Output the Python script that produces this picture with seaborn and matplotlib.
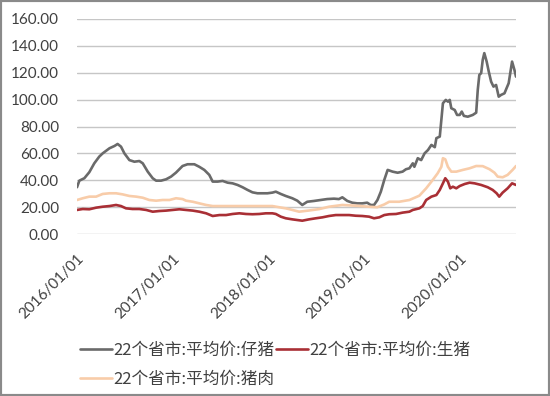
import pandas as pd
import matplotlib
matplotlib.use("Agg")
import matplotlib.pyplot as plt
import matplotlib.dates as mdates
from matplotlib.patches import Rectangle
import seaborn as sns

# values (yuan/kg)
piglet_dates = [
    "2016-01-01", "2016-01-10", "2016-01-29", "2016-02-17", "2016-03-07", "2016-03-26",
    "2016-04-08", "2016-05-04", "2016-05-23", "2016-06-04", "2016-06-17", "2016-06-30",
    "2016-07-19", "2016-08-07", "2016-08-26", "2016-09-08", "2016-09-27", "2016-10-16",
    "2016-10-29", "2016-11-17", "2016-12-06", "2016-12-25", "2017-01-13", "2017-02-07",
    "2017-02-26", "2017-03-24", "2017-04-12", "2017-05-01", "2017-05-20", "2017-06-02",
    "2017-06-21", "2017-07-10", "2017-07-29", "2017-08-17", "2017-09-05", "2017-09-24",
    "2017-10-13", "2017-11-01", "2017-11-20", "2017-12-09", "2017-12-28", "2018-01-16",
    "2018-01-29", "2018-02-17", "2018-03-08", "2018-04-02", "2018-04-21", "2018-05-10",
    "2018-05-29", "2018-06-24", "2018-07-19", "2018-08-13", "2018-09-08", "2018-09-27",
    "2018-10-10", "2018-10-29", "2018-11-17", "2018-12-06", "2018-12-25", "2019-01-13",
    "2019-01-26", "2019-02-08", "2019-02-21", "2019-03-06", "2019-03-19", "2019-04-01",
    "2019-04-20", "2019-05-09", "2019-05-28", "2019-06-10", "2019-06-23", "2019-07-06",
    "2019-07-12", "2019-07-25", "2019-08-07", "2019-08-20", "2019-09-02", "2019-09-15",
    "2019-09-28", "2019-10-04", "2019-10-17", "2019-10-23", "2019-10-29", "2019-11-09",
    "2019-11-17", "2019-11-24", "2019-11-30", "2019-12-13", "2019-12-22", "2020-01-01",
    "2020-01-09", "2020-01-17", "2020-02-01", "2020-02-20", "2020-03-04", "2020-03-10",
    "2020-03-16", "2020-03-23", "2020-03-29", "2020-04-04", "2020-04-13", "2020-04-21",
    "2020-04-30", "2020-05-09", "2020-05-19", "2020-05-29", "2020-06-07", "2020-06-20",
    "2020-06-28", "2020-07-06", "2020-07-15", "2020-07-19", "2020-07-28", "2020-08-03",
]
piglet_vals = [
    34.8, 39.7, 41.5, 46.0, 52.6, 57.6,
    60.0, 63.8, 65.5, 67.0, 65.0, 60.0,
    55.0, 53.8, 54.3, 52.6, 46.4, 41.5,
    39.7, 39.7, 40.7, 42.7, 45.7, 50.6,
    51.9, 51.9, 50.0, 47.7, 44.0, 39.0,
    39.0, 39.5, 38.2, 37.7, 36.5, 34.8,
    32.8, 31.0, 30.3, 30.3, 30.3, 30.8,
    31.5, 29.8, 28.3, 26.6, 24.8, 21.6,
    24.0, 24.6, 25.3, 26.0, 26.3, 26.0,
    27.3, 24.6, 23.3, 22.8, 22.8, 23.3,
    21.6, 21.6, 25.3, 31.5, 40.2, 47.7,
    46.4, 45.6, 46.4, 48.2, 48.9, 52.6,
    50.0, 56.4, 55.0, 60.0, 62.5, 66.3,
    64.6, 71.3, 72.5, 84.9, 97.3, 99.8,
    98.5, 99.8, 93.6, 92.3, 88.6, 88.6,
    91.1, 87.9, 87.3, 88.6, 90.3, 107.2,
    118.4, 119.7, 129.6, 134.6, 128.3, 120.9,
    113.4, 109.7, 110.9, 102.2, 103.5, 104.7,
    108.5, 112.2, 123.4, 128.3, 122.1, 117.1,
]

hog_dates = [
    "2016-01-01", "2016-01-23", "2016-02-17", "2016-03-14", "2016-04-08", "2016-05-04",
    "2016-05-29", "2016-06-17", "2016-07-06", "2016-07-31", "2016-08-26", "2016-09-21",
    "2016-10-16", "2016-11-10", "2016-12-06", "2016-12-31", "2017-01-26", "2017-02-20",
    "2017-03-18", "2017-04-12", "2017-05-08", "2017-06-02", "2017-06-28", "2017-07-23",
    "2017-08-17", "2017-09-12", "2017-10-07", "2017-11-01", "2017-11-27", "2017-12-22",
    "2018-01-16", "2018-01-29", "2018-02-17", "2018-03-08", "2018-04-02", "2018-04-21",
    "2018-05-10", "2018-06-05", "2018-07-01", "2018-07-26", "2018-08-20", "2018-09-15",
    "2018-10-10", "2018-11-05", "2018-11-30", "2018-12-25", "2019-01-20", "2019-02-08",
    "2019-02-28", "2019-03-19", "2019-04-07", "2019-05-03", "2019-05-28", "2019-06-23",
    "2019-07-06", "2019-07-31", "2019-08-13", "2019-08-26", "2019-09-15", "2019-10-04",
    "2019-10-17", "2019-10-29", "2019-11-07", "2019-11-17", "2019-11-26", "2019-12-06",
    "2019-12-19", "2020-01-01", "2020-01-20", "2020-02-08", "2020-02-27", "2020-03-23",
    "2020-04-17", "2020-05-06", "2020-05-21", "2020-05-31", "2020-06-13", "2020-07-02",
    "2020-07-19", "2020-08-03",
]
hog_vals = [
    17.9, 18.6, 18.4, 19.6, 20.3, 20.8,
    21.6, 20.8, 19.1, 18.6, 18.6, 17.9,
    16.6, 17.1, 17.4, 17.9, 18.4, 17.9,
    17.4, 16.6, 15.4, 13.4, 14.1, 14.1,
    14.9, 15.4, 14.9, 14.7, 14.9, 15.4,
    15.4, 14.9, 12.9, 11.7, 10.9, 10.4,
    9.9, 10.9, 11.7, 12.4, 13.4, 14.1,
    14.1, 14.1, 13.6, 13.4, 12.9, 11.7,
    12.4, 14.1, 14.7, 14.9, 15.9, 16.6,
    17.9, 19.1, 20.8, 25.3, 27.8, 29.0,
    32.8, 37.7, 41.5, 39.0, 34.0, 35.2,
    34.0, 35.7, 37.2, 38.2, 37.7, 36.5,
    34.8, 32.8, 30.3, 27.8, 30.8, 34.0,
    37.7, 36.5,
]

pork_dates = [
    "2016-01-01", "2016-01-23", "2016-02-17", "2016-03-14", "2016-04-08", "2016-05-04",
    "2016-05-29", "2016-06-23", "2016-07-19", "2016-08-14", "2016-09-08", "2016-10-03",
    "2016-10-29", "2016-11-23", "2016-12-19", "2017-01-13", "2017-02-07", "2017-02-20",
    "2017-03-18", "2017-04-12", "2017-05-08", "2017-06-02", "2017-07-10", "2017-08-17",
    "2017-10-07", "2017-11-27", "2018-01-16", "2018-02-11", "2018-03-08", "2018-04-02",
    "2018-04-28", "2018-06-05", "2018-07-13", "2018-08-20", "2018-10-10", "2018-12-05",
    "2019-01-20", "2019-02-20", "2019-03-19", "2019-04-07", "2019-05-15", "2019-06-23",
    "2019-07-31", "2019-08-26", "2019-09-20", "2019-10-09", "2019-10-23", "2019-10-29",
    "2019-11-07", "2019-11-17", "2019-11-30", "2019-12-19", "2020-01-13", "2020-02-08",
    "2020-03-04", "2020-03-29", "2020-04-24", "2020-05-13", "2020-05-25", "2020-06-13",
    "2020-07-02", "2020-07-21", "2020-08-03",
]
pork_vals = [
    25.3, 26.6, 27.8, 27.8, 29.8, 30.3,
    30.3, 29.5, 28.3, 27.8, 27.0, 25.3,
    24.8, 25.3, 25.3, 26.6, 26.0, 24.8,
    24.0, 22.8, 21.6, 20.8, 20.8, 20.8,
    20.8, 20.8, 20.8, 19.9, 19.1, 17.9,
    16.6, 17.5, 18.5, 20.3, 21.6, 21.0,
    20.3, 19.9, 22.0, 24.0, 24.0, 25.3,
    28.5, 34.0, 40.2, 45.2, 50.0, 56.4,
    55.6, 50.0, 46.4, 46.4, 47.7, 48.9,
    50.6, 50.5, 48.2, 45.6, 42.7, 42.2,
    44.0, 47.7, 50.6,
]

series_names = ["22个省市:平均价:仔猪", "22个省市:平均价:生猪", "22个省市:平均价:猪肉"]
series_colors = ["#6a6a6a", "#a92f35", "#f8cca9"]
y_ticks = [0, 20, 40, 60, 80, 100, 120, 140, 160]

frames = []
for name, d, v in zip(series_names,
                      [piglet_dates, hog_dates, pork_dates],
                      [piglet_vals, hog_vals, pork_vals]):
    frames.append(pd.DataFrame({"date": pd.to_datetime(d), "price": v, "series": name}))
df = pd.concat(frames, ignore_index=True)

sns.set_theme(style="white")
plt.rcParams["font.family"] = ["Lato", "Noto Sans CJK SC", "DejaVu Sans"]

fig = plt.figure(figsize=(5.5, 3.96), dpi=100)
ax = fig.add_axes([77 / 550, 1 - 234 / 396, (516 - 77) / 550, (234 - 19) / 396])

sns.lineplot(data=df, x="date", y="price", hue="series", hue_order=series_names,
             palette=series_colors, estimator=None, linewidth=1.9, ax=ax, legend=True)

ax.set_xlim(pd.Timestamp("2016-01-01"), pd.Timestamp("2020-08-03"))
ax.set_ylim(0, 160)
ax.set_yticks(y_ticks)
ax.set_yticklabels([f"{t:.2f}" for t in y_ticks])
ax.set_xlabel("")
ax.set_ylabel("")
ax.xaxis.set_major_locator(mdates.YearLocator())
ax.xaxis.set_major_formatter(mdates.DateFormatter("%Y/%m/%d"))

ax.grid(axis="y", color="#c6c6c6", linewidth=1.0)
ax.grid(axis="x", visible=False)
ax.set_axisbelow(True)
for s in ax.spines.values():
    s.set_visible(False)
ax.tick_params(axis="both", length=0, labelsize=11, colors="#404040")
ax.tick_params(axis="y", pad=13)
ax.tick_params(axis="x", pad=13)
for lbl in ax.get_xticklabels():
    lbl.set_rotation(45)
    lbl.set_ha("right")
    lbl.set_rotation_mode("anchor")

# legend: two entries on first row, pork below
handles, labels = ax.get_legend_handles_labels()
order = [0, 2, 1]
ax.legend([handles[i] for i in order], [labels[i] for i in order],
          ncol=2, frameon=False, loc="upper left",
          bbox_to_anchor=(65 / 550, 1 - 327 / 396), bbox_transform=fig.transFigure,
          prop={"family": ["Noto Sans CJK SC", "DejaVu Sans"], "size": 12},
          handlelength=1.9, handletextpad=0.1, columnspacing=0.1,
          labelspacing=0.7, labelcolor="#404040")

fig.patches.append(Rectangle((0, 0), 1, 1, transform=fig.transFigure, fill=False,
                             edgecolor="#8a8a8a", linewidth=3))

fig.savefig("out.png", dpi=100)
